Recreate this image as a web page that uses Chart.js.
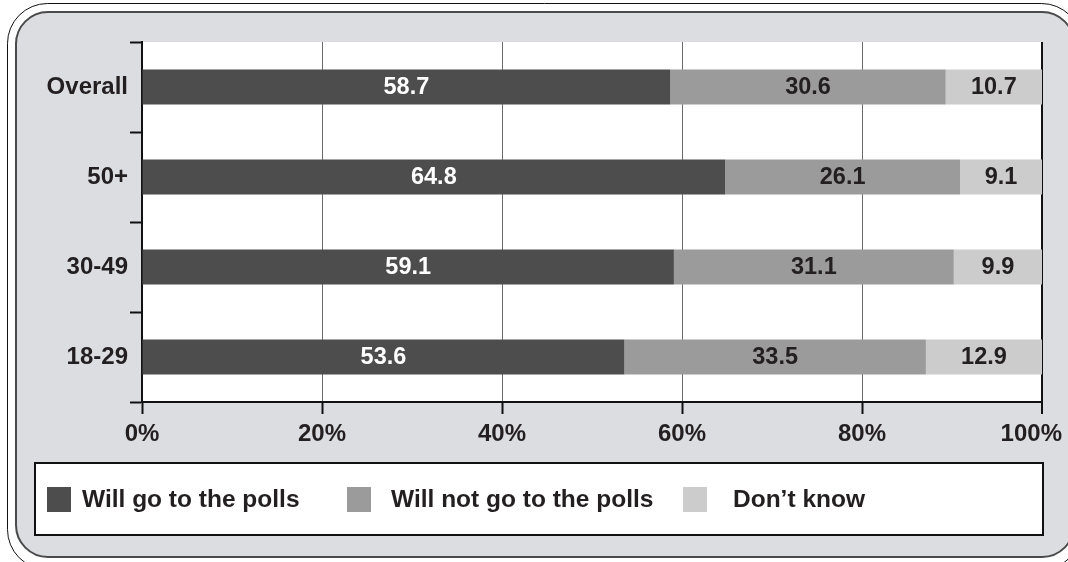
<!DOCTYPE html>
<html>
<head>
<meta charset="utf-8">
<script src="https://cdn.jsdelivr.net/npm/chart.js@4.4.1/dist/chart.umd.min.js"></script>
<style>
  html, body { margin: 0; padding: 0; background: #ffffff; }
  #wrap { width: 1068px; height: 562px; position: relative; }
</style>
</head>
<body>
<div id="wrap"><canvas id="chart" width="1068" height="562"></canvas></div>
<script>
// Age groups, top to bottom
const categories = ['Overall', '50+', '30-49', '18-29'];

// Share of respondents (%)
const willGo    = [58.7, 64.8, 59.1, 53.6];
const willNotGo = [30.6, 26.1, 31.1, 33.5];
const dontKnow  = [10.7,  9.1,  9.9, 12.9];

const seriesNames = ['Will go to the polls', 'Will not go to the polls', 'Don\u2019t know'];
const xTicks = [0, 20, 40, 60, 80, 100];

const FONT = '"Liberation Sans", Arial, Helvetica, sans-serif';
const TEXT = '#231f20';
const COLORS = ['#4d4d4d', '#9b9b9b', '#cccccc'];

function roundRect(ctx, x, y, w, h, r) {
  ctx.beginPath();
  ctx.moveTo(x + r, y);
  ctx.lineTo(x + w - r, y);
  ctx.arcTo(x + w, y, x + w, y + r, r);
  ctx.lineTo(x + w, y + h - r);
  ctx.arcTo(x + w, y + h, x + w - r, y + h, r);
  ctx.lineTo(x + r, y + h);
  ctx.arcTo(x, y + h, x, y + h - r, r);
  ctx.lineTo(x, y + r);
  ctx.arcTo(x, y, x + r, y, r);
  ctx.closePath();
}

// Rounded double frame behind the chart, white plot background
const framePlugin = {
  id: 'frame',
  beforeDraw(chart) {
    const ctx = chart.ctx;
    const a = chart.chartArea;
    ctx.save();
    ctx.fillStyle = '#ffffff';
    ctx.fillRect(0, 0, chart.width, chart.height);
    roundRect(ctx, 7.5, 3.5, 1074, 566, 40);
    ctx.lineWidth = 1;
    ctx.strokeStyle = '#111111';
    ctx.stroke();
    roundRect(ctx, 16, 12, 1058, 545, 32);
    ctx.fillStyle = '#dcdde0';
    ctx.fill();
    ctx.lineWidth = 2;
    ctx.strokeStyle = '#4a4a4a';
    ctx.stroke();
    ctx.fillStyle = '#ffffff';
    ctx.fillRect(a.left, a.top, a.right - a.left, a.bottom - a.top);
    ctx.restore();
  }
};

// Value labels centred in each segment, and the percent labels under the axis
const valueLabels = {
  id: 'valueLabels',
  afterDatasetsDraw(chart) {
    const ctx = chart.ctx;
    ctx.save();
    ctx.font = 'bold 23.5px ' + FONT;
    ctx.textAlign = 'center';
    ctx.textBaseline = 'middle';
    chart.data.datasets.forEach((ds, i) => {
      const meta = chart.getDatasetMeta(i);
      meta.data.forEach((bar, j) => {
        const v = ds.data[j];
        const left = Math.min(bar.x, bar.base);
        const right = Math.min(Math.max(bar.x, bar.base), chart.chartArea.right);
        ctx.fillStyle = i === 0 ? '#ffffff' : TEXT;
        ctx.fillText(v.toFixed(1), (left + right) / 2, bar.y + 1);
      });
    });

    const xs = chart.scales.x;
    ctx.font = 'bold 24px ' + FONT;
    ctx.fillStyle = TEXT;
    xTicks.forEach(v => {
      const label = v + '%';
      const w = ctx.measureText(label).width;
      const cx = Math.min(xs.getPixelForValue(v), chart.width - 6 - w / 2);
      ctx.fillText(label, cx, chart.chartArea.bottom + 32);
    });
    ctx.restore();
  }
};

// Boxed legend under the axis
const boxLegend = {
  id: 'boxLegend',
  afterDraw(chart) {
    const ctx = chart.ctx;
    ctx.save();
    ctx.fillStyle = '#ffffff';
    ctx.fillRect(35, 463, 1008, 72);
    ctx.lineWidth = 2;
    ctx.strokeStyle = '#111111';
    ctx.strokeRect(35, 463, 1008, 72);
    const squares = [47, 347, 683];
    const texts = [82, 391, 733];
    ctx.font = 'bold 24.5px ' + FONT;
    ctx.textBaseline = 'middle';
    ctx.textAlign = 'left';
    chart.data.datasets.forEach((ds, i) => {
      ctx.fillStyle = ds.backgroundColor;
      ctx.fillRect(squares[i], 487, 24, 25);
      ctx.fillStyle = TEXT;
      ctx.fillText(ds.label, texts[i], 500);
    });
    ctx.restore();
  }
};

new Chart(document.getElementById('chart'), {
  type: 'bar',
  data: {
    labels: categories,
    datasets: [
      { label: seriesNames[0], data: willGo,    backgroundColor: COLORS[0] },
      { label: seriesNames[1], data: willNotGo, backgroundColor: COLORS[1] },
      { label: seriesNames[2], data: dontKnow,  backgroundColor: COLORS[2] }
    ]
  },
  options: {
    indexAxis: 'y',
    responsive: false,
    animation: false,
    devicePixelRatio: 1,
    layout: { padding: { left: 0, top: 42, right: 26, bottom: 0 } },
    datasets: {
      bar: { categoryPercentage: 1, barPercentage: 0.39, borderWidth: 0 }
    },
    plugins: {
      legend: { display: false },
      tooltip: { enabled: false }
    },
    scales: {
      x: {
        stacked: true,
        min: 0,
        max: 100,
        afterBuildTicks(scale) {
          scale.ticks = xTicks.map(v => ({ value: v }));
        },
        afterFit(scale) {
          scale.height = 160;
          scale.paddingLeft = 0;
          scale.paddingRight = 0;
        },
        ticks: { display: false },
        grid: {
          drawOnChartArea: true,
          color: ctx => (ctx.tick && ctx.tick.value === 100) ? '#111111' : '#6a6a6a',
          lineWidth: ctx => (ctx.tick && ctx.tick.value === 100) ? 2 : 1,
          tickColor: '#111111',
          tickLength: 12,
          tickWidth: 2
        },
        border: { color: '#111111', width: 2 }
      },
      y: {
        stacked: true,
        afterFit(scale) {
          scale.width = 142;
        },
        ticks: {
          font: { family: FONT, size: 24, weight: 'bold' },
          color: TEXT,
          padding: 2
        },
        grid: {
          offset: true,
          drawOnChartArea: false,
          tickColor: '#111111',
          tickLength: 12,
          tickWidth: 2
        },
        border: { color: '#111111', width: 2 }
      }
    }
  },
  plugins: [framePlugin, valueLabels, boxLegend]
});
</script>
</body>
</html>
